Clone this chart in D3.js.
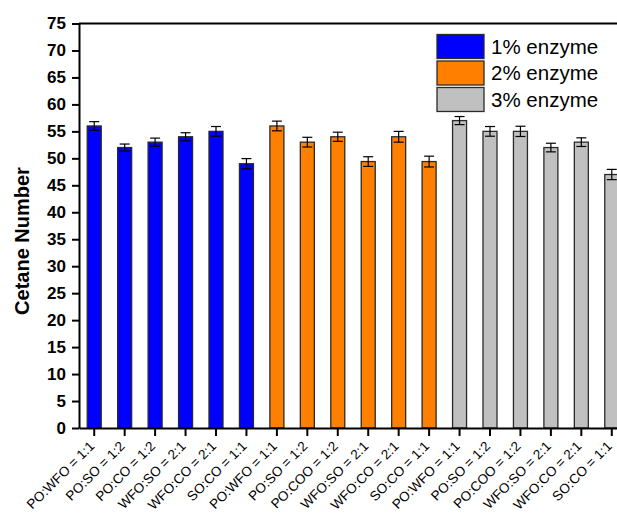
<!DOCTYPE html>
<html>
<head>
<meta charset="utf-8">
<script src="https://cdn.jsdelivr.net/npm/d3@7"></script>
<style>
  body { margin: 0; background: #fff; }
  svg { display: block; font-family: "Liberation Sans", Arial, sans-serif; }
</style>
</head>
<body>
<div id="chart"></div>
<script>
// blend ratios, repeated for each enzyme dose
const labels1 = ["PO:WFO = 1:1", "PO:SO = 1:2", "PO:CO = 1:2", "WFO:SO = 2:1", "WFO:CO = 2:1", "SO:CO = 1:1"];
const labels2 = ["PO:WFO = 1:1", "PO:SO = 1:2", "PO:COO = 1:2", "WFO:SO = 2:1", "WFO:CO = 2:1", "SO:CO = 1:1"];
const labels3 = ["PO:WFO = 1:1", "PO:SO = 1:2", "PO:COO = 1:2", "WFO:SO = 2:1", "WFO:CO = 2:1", "SO:CO = 1:1"];

const seriesNames = ["1% enzyme", "2% enzyme", "3% enzyme"];
const seriesColors = ["#0000ff", "#ff8000", "#c0c0c0"];

const enzyme1 = [56, 52, 53, 54, 55, 49];
const enzyme2 = [56, 53, 54, 49.4, 54, 49.4];
const enzyme3 = [57, 55, 55, 52, 53, 47];

const err1 = [0.8, 0.65, 0.75, 0.75, 0.9, 0.95];
const err2 = [0.9, 0.9, 0.85, 0.9, 1.0, 1.0];
const err3 = [0.75, 0.9, 0.95, 0.8, 0.8, 0.95];

const yTicks = d3.range(0, 80, 5);

// flatten into one row per bar
const rows = [];
[[labels1, enzyme1, err1], [labels2, enzyme2, err2], [labels3, enzyme3, err3]].forEach((s, si) => {
  s[0].forEach((lab, i) => {
    rows.push({ key: rows.length, label: lab, value: s[1][i], err: s[2][i], series: si });
  });
});

const width = 617, height = 513;
const margin = { left: 79, top: 23.5, right: -10, bottom: 85 };
const plotW = width - margin.left - margin.right;
const plotH = height - margin.top - margin.bottom;

const svg = d3.select('#chart').append('svg')
  .attr('width', width)
  .attr('height', height);

const g = svg.append('g')
  .attr('transform', `translate(${margin.left}, ${margin.top})`);

const x = d3.scaleBand()
  .domain(rows.map(d => d.key))
  .range([0, plotW])
  .paddingInner(0.54)
  .paddingOuter(0.27);

const y = d3.scaleLinear()
  .domain([0, 75])
  .range([plotH, 0]);

// bars
g.selectAll('.bar')
  .data(rows)
  .enter().append('rect')
  .attr('class', 'bar')
  .attr('x', d => x(d.key))
  .attr('width', x.bandwidth())
  .attr('y', d => y(d.value))
  .attr('height', d => y(0) - y(d.value))
  .attr('fill', d => seriesColors[d.series])
  .attr('stroke', '#2a2a2a')
  .attr('stroke-width', 1.3);

// error bars
const eb = g.selectAll('.err')
  .data(rows)
  .enter().append('g')
  .attr('class', 'err')
  .attr('stroke', '#000')
  .attr('stroke-width', 1.2);
eb.append('line')
  .attr('x1', d => x(d.key) + x.bandwidth() / 2)
  .attr('x2', d => x(d.key) + x.bandwidth() / 2)
  .attr('y1', d => y(d.value + d.err))
  .attr('y2', d => y(d.value - d.err));
eb.append('line')
  .attr('x1', d => x(d.key) + x.bandwidth() / 2 - 5)
  .attr('x2', d => x(d.key) + x.bandwidth() / 2 + 5)
  .attr('y1', d => y(d.value + d.err))
  .attr('y2', d => y(d.value + d.err));
eb.append('line')
  .attr('x1', d => x(d.key) + x.bandwidth() / 2 - 5)
  .attr('x2', d => x(d.key) + x.bandwidth() / 2 + 5)
  .attr('y1', d => y(d.value - d.err))
  .attr('y2', d => y(d.value - d.err));

// top frame line
g.append('line')
  .attr('x1', 0).attr('x2', plotW)
  .attr('y1', 0).attr('y2', 0)
  .attr('stroke', '#000')
  .attr('stroke-width', 2);

// y axis
const yAxis = g.append('g')
  .call(d3.axisLeft(y).tickValues(yTicks).tickSize(7).tickPadding(6).tickSizeOuter(0));
yAxis.select('.domain').attr('stroke-width', 2);
yAxis.selectAll('.tick line').attr('stroke-width', 2);
yAxis.selectAll('.tick text')
  .attr('font-size', 17)
  .attr('font-weight', 'bold')
  .attr('fill', '#000');

// x axis
const xAxis = g.append('g')
  .attr('transform', `translate(0, ${plotH})`)
  .call(d3.axisBottom(x).tickSize(8).tickSizeOuter(0).tickFormat(k => rows[k].label));
xAxis.select('.domain').attr('stroke-width', 2);
xAxis.selectAll('.tick line').attr('stroke-width', 2);
xAxis.selectAll('.tick text')
  .attr('font-size', 13.5)
  .attr('fill', '#000')
  .attr('text-anchor', 'end')
  .attr('dy', null)
  .attr('y', null)
  .attr('transform', 'translate(1, 19) rotate(-45)');

// y axis title
svg.append('text')
  .attr('transform', `translate(29, 241) rotate(-90)`)
  .attr('text-anchor', 'middle')
  .attr('font-size', 20)
  .attr('font-weight', 'bold')
  .text('Cetane Number');

// legend
const legend = svg.append('g')
  .attr('transform', 'translate(437, 34.5)');
seriesNames.forEach((name, i) => {
  const row = legend.append('g').attr('transform', `translate(0, ${i * 26.5})`);
  row.append('rect')
    .attr('width', 47)
    .attr('height', 24)
    .attr('fill', seriesColors[i])
    .attr('stroke', '#2a2a2a')
    .attr('stroke-width', 1.3);
  row.append('text')
    .attr('x', 54)
    .attr('y', 19)
    .attr('font-size', 20.5)
    .text(name);
});
</script>
</body>
</html>
